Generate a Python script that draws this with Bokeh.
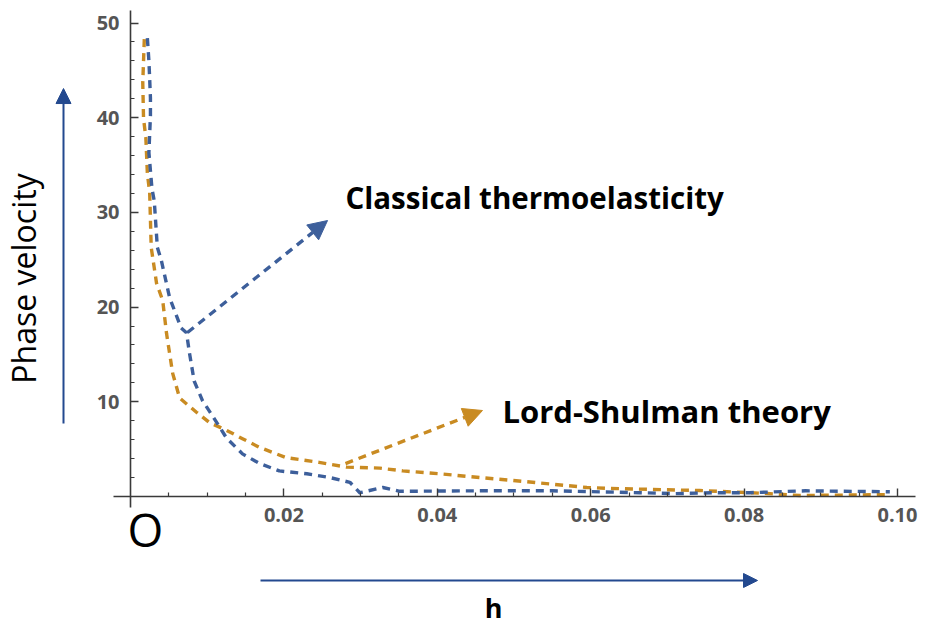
from bokeh.plotting import figure
from bokeh.models import (Range1d, LinearAxis, FixedTicker, NumeralTickFormatter,
                          Label, Arrow, NormalHead)
from bokeh.embed import file_html
from bokeh.resources import INLINE
import math

# ---------------- data ----------------
h_lord = [0.0018, 0.0016, 0.0017, 0.0020, 0.0022, 0.0025, 0.0027, 0.0034, 0.0042, 0.0047,
          0.0055, 0.0064, 0.0086, 0.0103, 0.0125, 0.0146, 0.0168, 0.0203, 0.0246, 0.0282,
          0.0325, 0.0355, 0.0403, 0.0455, 0.0498, 0.0550, 0.0595, 0.0625, 0.0742, 0.0830,
          0.0872, 0.0985]
v_lord = [48.3, 43.7, 39.9, 37.9, 34.1, 32.1, 26.3, 22.5, 20.7, 17.2,
          13.0, 10.4, 8.9, 7.8, 7.0, 6.1, 5.2, 4.1, 3.6, 3.1,
          3.0, 2.7, 2.4, 2.0, 1.7, 1.3, 0.95, 0.85, 0.63, 0.32,
          0.10, 0.20]

h_classical = [0.0022, 0.0024, 0.0025, 0.0026, 0.0026, 0.0025, 0.0024, 0.0026, 0.0028, 0.0031,
               0.0035, 0.0040, 0.0051, 0.0066, 0.0073, 0.0077, 0.0083, 0.0094, 0.0107, 0.0125,
               0.0146, 0.0168, 0.0194, 0.0230, 0.0260, 0.0286, 0.0299, 0.0329, 0.0351, 0.0450,
               0.0550, 0.0664, 0.0710, 0.0759, 0.0807, 0.0880, 0.0990]
v_classical = [48.4, 46.0, 44.1, 42.1, 40.2, 38.3, 36.3, 34.4, 32.5, 31.2,
               26.3, 25.0, 21.0, 17.8, 17.3, 15.1, 12.2, 10.1, 8.5, 6.2,
               4.5, 3.5, 2.7, 2.4, 2.0, 1.5, 0.4, 0.95, 0.55, 0.6,
               0.6, 0.4, 0.3, 0.4, 0.4, 0.6, 0.5]

x_ticks = [0.02, 0.04, 0.06, 0.08, 0.10]
x_minor_ticks = [0.005, 0.01, 0.015, 0.025, 0.03, 0.035, 0.045, 0.05, 0.055,
                 0.065, 0.07, 0.075, 0.085, 0.09, 0.095]
y_ticks = [10, 20, 30, 40, 50]
y_minor_ticks = [2, 4, 6, 8, 12, 14, 16, 18, 22, 24, 26, 28, 32, 34, 36, 38,
                 42, 44, 46, 48]

label_classical = "Classical thermoelasticity"
label_lord = "Lord-Shulman theory"
y_title = "Phase velocity"
x_title = "h"
origin_text = "O"

# ---------------- styling ----------------
BLUE = "#3D5F9B"
ORANGE = "#C98B22"
NAVY = "#23498F"
AXIS = "#3a3a3a"
FONT = "Open Sans"

p = figure(width=934, height=626, output_backend="svg", toolbar_location=None,
           x_range=Range1d(-0.016949, 0.104824), y_range=Range1d(-13.728, 52.376),
           x_axis_location=None, y_axis_location=None, title=None,
           min_border=0, min_border_left=0, min_border_right=0,
           min_border_top=0, min_border_bottom=0)
p.outline_line_color = None
p.background_fill_color = "white"
p.border_fill_color = "white"
for g in p.grid:
    g.visible = False

# axes crossing at the origin
xaxis = LinearAxis(fixed_location=0, bounds=(-0.0022, 0.1023),
                   ticker=FixedTicker(ticks=x_ticks, minor_ticks=x_minor_ticks),
                   formatter=NumeralTickFormatter(format="0.00"))
yaxis = LinearAxis(fixed_location=0, bounds=(-1.16, 51.3),
                   ticker=FixedTicker(ticks=y_ticks, minor_ticks=y_minor_ticks),
                   formatter=NumeralTickFormatter(format="0"))
for ax in (xaxis, yaxis):
    ax.axis_line_color = AXIS
    ax.axis_line_width = 1.6
    ax.major_tick_line_color = AXIS
    ax.minor_tick_line_color = AXIS
    ax.major_tick_line_width = 1.4
    ax.minor_tick_line_width = 1.2
    ax.major_tick_in = 8
    ax.major_tick_out = 0
    ax.minor_tick_in = 4
    ax.minor_tick_out = 0
    ax.major_label_text_font = FONT
    ax.major_label_text_font_style = "bold"
    ax.major_label_text_font_size = "20px"
    ax.major_label_text_color = "#555555"
xaxis.major_label_standoff = 12
yaxis.major_label_standoff = 11
p.add_layout(xaxis, "below")
p.add_layout(yaxis, "left")

# curves
p.line(h_lord, v_lord, line_color=ORANGE, line_width=3.4, line_dash="8 6",
       line_join="round")
p.line(h_classical, v_classical, line_color=BLUE, line_width=3.4, line_dash="8 6",
       line_join="round")

# dashed pointer arrows
p.add_layout(Arrow(x_start=0.00743, y_start=17.32, x_end=0.02569, y_end=29.14,
                   line_color=BLUE, line_width=3.4, line_dash="8 6",
                   end=NormalHead(size=19, fill_color=BLUE, line_color=BLUE, line_width=1)))
p.add_layout(Arrow(x_start=0.02803, y_start=3.48, x_end=0.04589, y_end=9.08,
                   line_color=ORANGE, line_width=3.4, line_dash="8 6",
                   end=NormalHead(size=19, fill_color=ORANGE, line_color=ORANGE, line_width=1)))

# axis direction arrows
p.add_layout(Arrow(x_start=-0.008735, y_start=7.71, x_end=-0.008735, y_end=43.08,
                   line_color=NAVY, line_width=2,
                   end=NormalHead(size=15, fill_color=NAVY, line_color=NAVY, line_width=1)))
p.add_layout(Arrow(x_start=0.01695, y_start=-8.87, x_end=0.08175, y_end=-8.87,
                   line_color=NAVY, line_width=2,
                   end=NormalHead(size=14, fill_color=NAVY, line_color=NAVY, line_width=1)))

# texts
p.add_layout(Label(x=0.02803, y=31.57, text=label_classical, text_font=FONT,
                   text_font_style="bold", text_font_size="29.5px", text_color="black",
                   text_align="left", text_baseline="alphabetic"))
p.add_layout(Label(x=0.0485, y=9.08, text=label_lord, text_font=FONT,
                   text_font_style="bold", text_font_size="31px", text_color="black",
                   text_align="left", text_baseline="alphabetic"))
p.add_layout(Label(x=-0.01395, y=23.02, text=y_title, text_font=FONT,
                   text_font_size="32px", text_color="black", angle=math.pi / 2,
                   text_align="center", text_baseline="alphabetic"))
p.add_layout(Label(x=0.04733, y=-11.72, text=x_title, text_font=FONT,
                   text_font_style="bold", text_font_size="27px", text_color="black",
                   text_align="center", text_baseline="alphabetic"))
p.add_layout(Label(x=0.001956, y=-3.48, text=origin_text, text_font=FONT,
                   text_font_size="46px", text_color="black",
                   text_align="center", text_baseline="alphabetic"))

open("out.html", "w").write(file_html(p, INLINE))
